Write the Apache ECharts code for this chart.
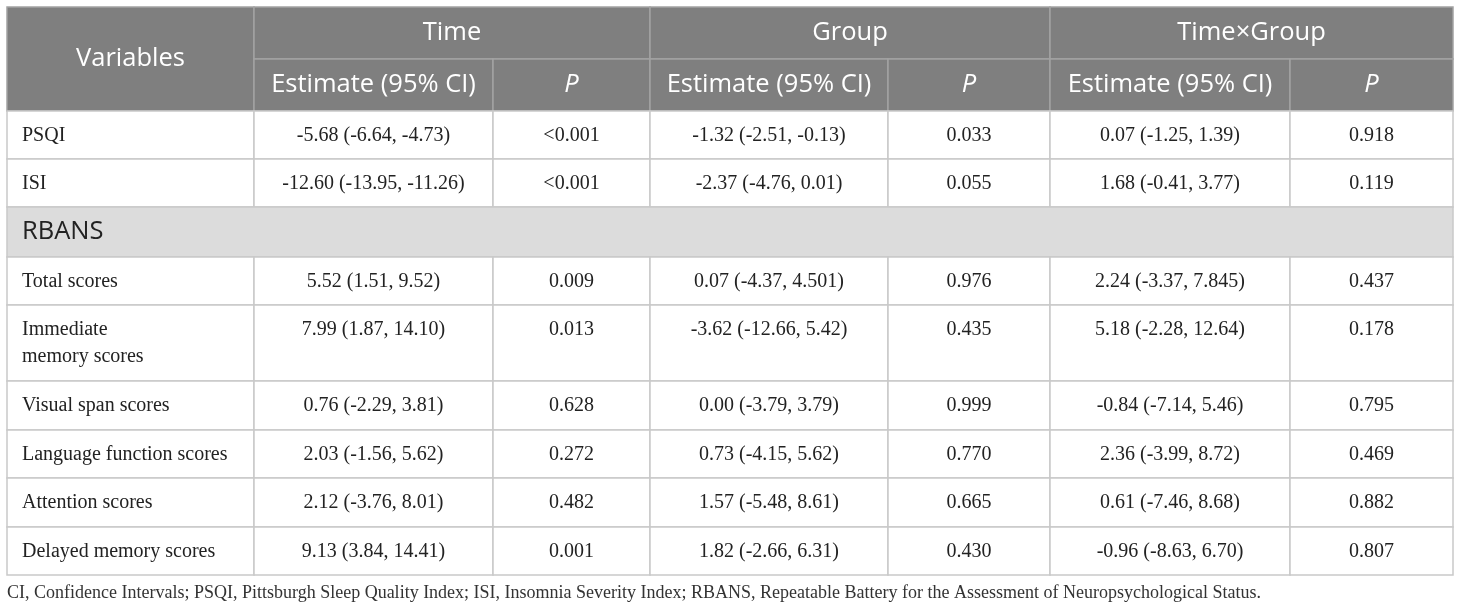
<!DOCTYPE html>
<html>
<head>
<meta charset="utf-8">
<script src="https://cdn.jsdelivr.net/npm/echarts@6/dist/echarts.min.js"></script>
<style>
  html, body { margin: 0; padding: 0; background: #fff; }
  #chart { width: 1460px; height: 612px; }
</style>
</head>
<body>
<div id="chart"></div>
<script>
  // table content
  var effects = ["Time", "Group", "Time\u00d7Group"];
  var subHeads = ["Estimate (95% CI)", "P"];
  var variables = ["PSQI", "ISI", "RBANS", "Total scores", "Immediate\nmemory scores",
    "Visual span scores", "Language function scores", "Attention scores", "Delayed memory scores"];
  var timeEst = ["-5.68 (-6.64, -4.73)", "-12.60 (-13.95, -11.26)", null, "5.52 (1.51, 9.52)",
    "7.99 (1.87, 14.10)", "0.76 (-2.29, 3.81)", "2.03 (-1.56, 5.62)", "2.12 (-3.76, 8.01)", "9.13 (3.84, 14.41)"];
  var timeP = ["<0.001", "<0.001", null, "0.009", "0.013", "0.628", "0.272", "0.482", "0.001"];
  var groupEst = ["-1.32 (-2.51, -0.13)", "-2.37 (-4.76, 0.01)", null, "0.07 (-4.37, 4.501)",
    "-3.62 (-12.66, 5.42)", "0.00 (-3.79, 3.79)", "0.73 (-4.15, 5.62)", "1.57 (-5.48, 8.61)", "1.82 (-2.66, 6.31)"];
  var groupP = ["0.033", "0.055", null, "0.976", "0.435", "0.999", "0.770", "0.665", "0.430"];
  var txgEst = ["0.07 (-1.25, 1.39)", "1.68 (-0.41, 3.77)", null, "2.24 (-3.37, 7.845)",
    "5.18 (-2.28, 12.64)", "-0.84 (-7.14, 5.46)", "2.36 (-3.99, 8.72)", "0.61 (-7.46, 8.68)", "-0.96 (-8.63, 6.70)"];
  var txgP = ["0.918", "0.119", null, "0.437", "0.178", "0.795", "0.469", "0.882", "0.807"];
  var footnote = "CI, Confidence Intervals; PSQI, Pittsburgh Sleep Quality Index; ISI, Insomnia Severity Index; " +
    "RBANS, Repeatable Battery for the Assessment of Neuropsychological Status.";

  // layout (table units = px)
  var colEdges = [0, 247, 486, 643, 881, 1043, 1283, 1446];
  var rowEdges = [0, 52, 104, 152, 200, 250, 298, 374, 423, 471, 520, 568];
  var HEAD_BG = "#7f7f7f", HEAD_LINE = "#a3a3a3", BODY_LINE = "#c9c9c9", SECTION_BG = "#dcdcdc";
  var SANS = "'Open Sans', 'Noto Sans', sans-serif", SERIF = "'Liberation Serif', 'DejaVu Serif', serif";

  var cells = [];
  function cell(c0, c1, r0, r1, text, kind) {
    cells.push({ value: [colEdges[c0], colEdges[c1], rowEdges[r0], rowEdges[r1]], text: text, kind: kind });
  }

  // headers
  cell(0, 1, 0, 2, "Variables", "head");
  effects.forEach(function (name, i) {
    cell(1 + i * 2, 3 + i * 2, 0, 1, name, "head");
    subHeads.forEach(function (s, j) {
      cell(1 + i * 2 + j, 2 + i * 2 + j, 1, 2, s, j === 1 ? "headItalic" : "head");
    });
  });

  // body
  var bodyCols = [timeEst, timeP, groupEst, groupP, txgEst, txgP];
  variables.forEach(function (v, i) {
    var r = i + 2;
    if (timeEst[i] === null) {
      cell(0, 7, r, r + 1, v, "section");
      return;
    }
    cell(0, 1, r, r + 1, v, "label");
    bodyCols.forEach(function (col, j) {
      cell(j + 1, j + 2, r, r + 1, col[i], "body");
    });
  });

  function renderItem(params, api) {
    var d = cells[params.dataIndex];
    var p0 = api.coord([api.value(0), api.value(2)]);
    var p1 = api.coord([api.value(1), api.value(3)]);
    var x = p0[0], y = p0[1], w = p1[0] - p0[0], h = p1[1] - p0[1];
    var isHead = d.kind.indexOf("head") === 0;
    var fill = isHead ? HEAD_BG : d.kind === "section" ? SECTION_BG : "#fff";
    var stroke = isHead ? HEAD_LINE : BODY_LINE;
    var textStyle;
    if (isHead) {
      textStyle = {
        x: x + w / 2, y: y + h / 2, text: d.text, fill: "#fff",
        font: (d.kind === "headItalic" ? "italic " : "") + "25.5px " + SANS,
        align: "center", verticalAlign: "middle"
      };
    } else if (d.kind === "section") {
      textStyle = {
        x: x + 15, y: y + h / 2, text: d.text, fill: "#222",
        font: "25.5px " + SANS, align: "left", verticalAlign: "middle"
      };
    } else {
      textStyle = {
        x: d.kind === "label" ? x + 15 : x + w / 2, y: y + 11, text: d.text, fill: "#222",
        font: "20px " + SERIF, lineHeight: 27,
        align: d.kind === "label" ? "left" : "center", verticalAlign: "top"
      };
    }
    return {
      type: "group",
      children: [
        { type: "rect", shape: { x: x, y: y, width: w, height: h },
          style: { fill: fill, stroke: stroke, lineWidth: 1.5 } },
        { type: "text", style: textStyle }
      ]
    };
  }

  var chart = echarts.init(document.getElementById("chart"), null, { renderer: "canvas" });
  chart.setOption({
    animation: false,
    grid: { left: 7, top: 7, width: 1446, height: 568 },
    xAxis: { type: "value", min: 0, max: 1446, show: false },
    yAxis: { type: "value", min: 0, max: 568, inverse: true, show: false },
    graphic: [{
      type: "text", left: 7, top: 584,
      style: { text: footnote, fill: "#333", font: "18px " + SERIF }
    }],
    series: [{
      type: "custom",
      silent: true,
      renderItem: renderItem,
      data: cells.map(function (c) { return c.value; })
    }]
  });
</script>
</body>
</html>
